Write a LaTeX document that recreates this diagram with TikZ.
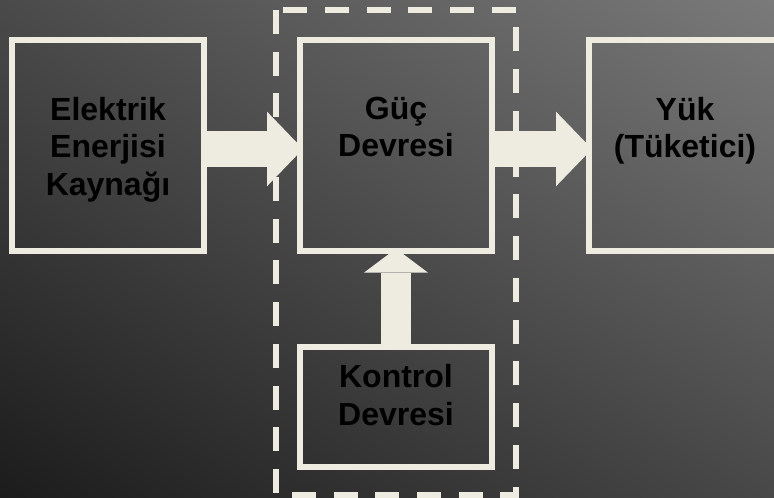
\documentclass[tikz,border=0pt]{standalone}
\usepackage{fontspec}
\setmainfont{Liberation Sans}
\usetikzlibrary{arrows.meta,shadings}
\definecolor{krem}{RGB}{238,236,225}
\definecolor{zeminUL}{RGB}{74,74,74}
\definecolor{zeminUR}{RGB}{122,122,122}
\definecolor{zeminLL}{RGB}{28,28,28}
\definecolor{zeminLR}{RGB}{72,72,72}
\begin{document}
\begin{tikzpicture}[x=0.75pt, y=-0.75pt]

      \tikzset{
        blok/.style={
          draw=krem,
          line width=4.5pt,
          minimum width=144pt,
          minimum height=158.25pt,
          inner sep=0pt,
        },
        yazi/.style={
          font=\bfseries\fontsize{24}{28.2}\selectfont,
          align=center,
          text=black,
          inner sep=0pt,
        },
        yatay ok/.style={
          draw=krem,
          line width=27pt,
          shorten >=-4.5pt,
          -{Triangle[width=56pt, length=27pt, line width=0pt]},
        },
        dikey ok/.style={
          draw=krem,
          line width=22.5pt,
          shorten >=-4pt,
          -{Triangle[width=48pt, length=18pt, line width=0pt]},
        },
      }

      \useasboundingbox (0,0) rectangle (774,497);
      \shade[upper left=zeminUL, upper right=zeminUR,
             lower left=zeminLL, lower right=zeminLR]
        (0,0) rectangle (774,497);

      \draw[krem, line width=4.5pt, dash pattern=on 18pt off 13.3pt]
        (276,10) -- (276,495) -- (516,495) -- (516,10) -- cycle;

      \node[blok] (kaynak) at (108,145.5) {};
      \node[blok] (guc) at (396,145.5) {};
      \node[blok] (yuk) at (685,145.5) {};
      \node[blok, minimum height=90pt] (kontrol) at (396,407) {};

      \node[yazi, yshift=-3pt] (kaynakyazi) at (kaynak) {Elektrik\\Enerjisi\\Kaynağı};
      \node[yazi, anchor=north] (gucyazi) at (kaynakyazi.north -| guc) {Güç\\Devresi};
      \node[yazi, anchor=north] (yukyazi) at (kaynakyazi.north -| yuk) {Yük\\(Tüketici)};
      \node[yazi, yshift=9pt] (kontrolyazi) at (kontrol) {Kontrol\\Devresi};

      \foreach \a/\b in {kaynak/guc,guc/yuk} {
        \draw[yatay ok] ([yshift=-2.6pt]\a.east) -- ([yshift=-2.6pt]\b.west);
      }
      \draw[dikey ok] (kontrol.north) -- (guc.south);

    \end{tikzpicture}
\end{document}
